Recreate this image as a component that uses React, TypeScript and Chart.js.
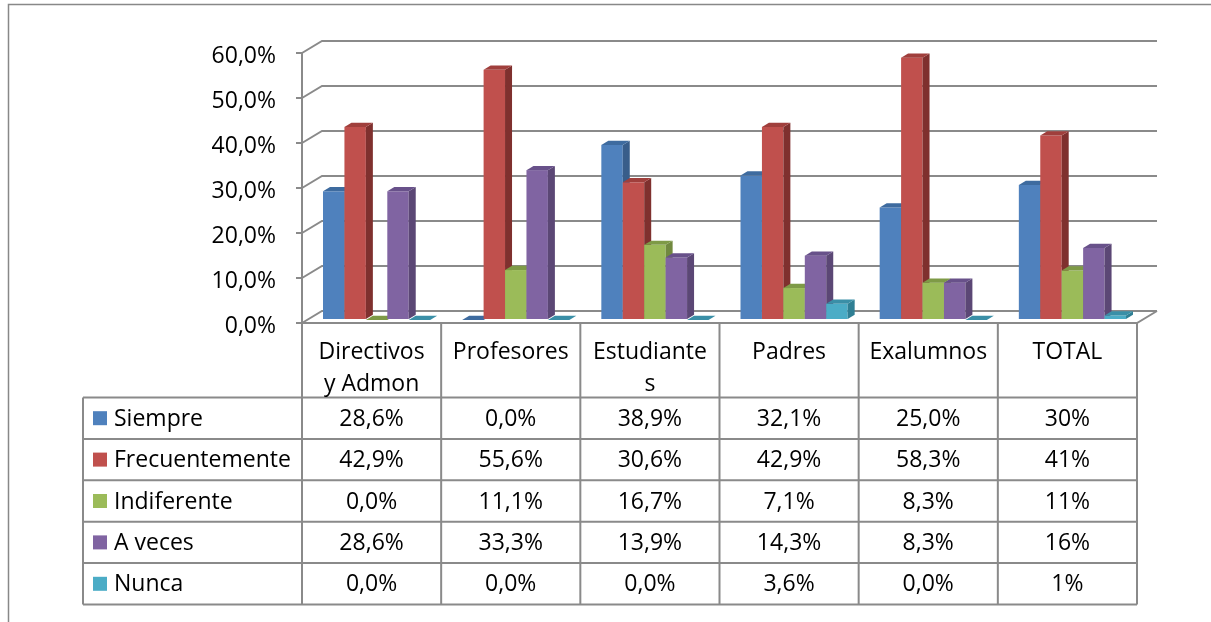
import React, { useEffect, useRef } from 'react';
import { Chart, registerables } from 'chart.js';

Chart.register(...registerables);

// Categories (multi-line header labels as they appear in the data table)
const categories: string[][] = [
  ['Directivos', 'y Admon'],
  ['Profesores'],
  ['Estudiante', 's'],
  ['Padres'],
  ['Exalumnos'],
  ['TOTAL'],
];

const seriesNames = ['Siempre', 'Frecuentemente', 'Indiferente', 'A veces', 'Nunca'];

// Percent values per series
const siempre = [28.6, 0.0, 38.9, 32.1, 25.0, 30];
const frecuentemente = [42.9, 55.6, 30.6, 42.9, 58.3, 41];
const indiferente = [0.0, 11.1, 16.7, 7.1, 8.3, 11];
const aVeces = [28.6, 33.3, 13.9, 14.3, 8.3, 16];
const nunca = [0.0, 0.0, 0.0, 3.6, 0.0, 1];

// Decimal places shown in the table for each category column
const tableDecimals = [1, 1, 1, 1, 1, 0];

// Value axis
const yMin = 0;
const yMax = 60;
const yStep = 10;

const seriesValues = [siempre, frecuentemente, indiferente, aVeces, nunca];

// Face colours: front, top, side
const frontColors = ['#4F81BD', '#C0504D', '#9BBB59', '#8064A2', '#4BACC6'];
const topColors = ['#3E6B9F', '#A03F3C', '#7E9A46', '#68518A', '#3A8FA7'];
const sideColors = ['#385D8A', '#7F302E', '#71893F', '#5B4775', '#2F7F94'];

const FONT_FAMILY = '"Open Sans", sans-serif';
const FONT = `23px ${FONT_FAMILY}`;
const LINE = '#8A8A8A';

// 3D geometry: full floor depth, and the slab of depth the bars occupy
const DEPTH_X = 20;
const DEPTH_Y = -12;
const BAR_FRONT = 0.25;
const BAR_BACK = 0.6;

// Data table geometry
const HEADER_H = 74.5;
const ROW_H = 41.4;
const LEGEND_LEFT = 83;

const fmt = (v: number, d: number) => v.toFixed(d).replace('.', ',') + '%';

const depthPlugin = {
  id: 'depth3d',
  beforeDatasetsDraw(chart: any) {
    const { ctx, chartArea, scales } = chart;
    const ys = scales.y;
    ctx.save();

    // Back wall gridlines with their left-wall diagonals
    ctx.strokeStyle = LINE;
    ctx.lineWidth = 2;
    ctx.lineJoin = 'miter';
    for (const t of ys.ticks) {
      const fy = ys.getPixelForValue(t.value);
      ctx.beginPath();
      ctx.moveTo(chartArea.left, fy);
      ctx.lineTo(chartArea.left + DEPTH_X, fy + DEPTH_Y);
      ctx.lineTo(chartArea.right + DEPTH_X, fy + DEPTH_Y);
      ctx.stroke();
    }
    // Floor front and right edges
    const floorY = ys.getPixelForValue(0);
    ctx.beginPath();
    ctx.moveTo(chartArea.left, floorY);
    ctx.lineTo(chartArea.right, floorY);
    ctx.lineTo(chartArea.right + DEPTH_X, floorY + DEPTH_Y);
    ctx.stroke();

    // Bars, category by category, left to right
    const ox = DEPTH_X * BAR_FRONT;
    const oy = DEPTH_Y * BAR_FRONT;
    const dx = DEPTH_X * (BAR_BACK - BAR_FRONT);
    const dy = DEPTH_Y * (BAR_BACK - BAR_FRONT);
    for (let c = 0; c < categories.length; c++) {
      for (let d = 0; d < seriesValues.length; d++) {
        const meta = chart.getDatasetMeta(d);
        const bar = meta.data[c];
        if (!bar) continue;
        const p = bar.getProps(['x', 'y', 'base', 'width'], true);
        const xl = p.x - p.width / 2 + ox;
        const xr = p.x + p.width / 2 + ox;
        const top = Math.min(p.y, p.base) + oy;
        const base = Math.max(p.y, p.base) + oy;

        if (base - top > 0.5) {
          ctx.fillStyle = frontColors[d];
          ctx.fillRect(xl, top, xr - xl, base - top);

          ctx.fillStyle = sideColors[d];
          ctx.beginPath();
          ctx.moveTo(xr, top);
          ctx.lineTo(xr + dx, top + dy);
          ctx.lineTo(xr + dx, base + dy);
          ctx.lineTo(xr, base);
          ctx.closePath();
          ctx.fill();
        }

        ctx.fillStyle = topColors[d];
        ctx.beginPath();
        ctx.moveTo(xl, top);
        ctx.lineTo(xl + dx, top + dy);
        ctx.lineTo(xr + dx, top + dy);
        ctx.lineTo(xr, top);
        ctx.closePath();
        ctx.fill();
      }
    }
    ctx.restore();
    return false;
  },
};

const tablePlugin = {
  id: 'dataTable',
  afterDraw(chart: any) {
    const { ctx, scales } = chart;
    const xs = scales.x;
    const ys = scales.y;
    const n = categories.length;
    const top = ys.getPixelForValue(0);
    const headerBottom = top + HEADER_H;
    const bottom = headerBottom + seriesNames.length * ROW_H;
    const bounds: number[] = [];
    for (let i = 0; i <= n; i++) bounds.push(xs.getPixelForValue(i - 0.5));

    ctx.save();
    ctx.strokeStyle = LINE;
    ctx.lineWidth = 2;
    ctx.beginPath();
    for (const bx of bounds) {
      ctx.moveTo(bx, top);
      ctx.lineTo(bx, bottom);
    }
    ctx.moveTo(LEGEND_LEFT, headerBottom);
    ctx.lineTo(LEGEND_LEFT, bottom);
    for (let r = 0; r <= seriesNames.length; r++) {
      const ry = headerBottom + r * ROW_H;
      ctx.moveTo(LEGEND_LEFT, ry);
      ctx.lineTo(bounds[n], ry);
    }
    ctx.stroke();

    ctx.fillStyle = '#000';
    ctx.font = FONT;
    ctx.textBaseline = 'middle';

    // Header labels
    ctx.textAlign = 'center';
    categories.forEach((lines, i) => {
      const cx = (bounds[i] + bounds[i + 1]) / 2;
      lines.forEach((ln, k) => {
        ctx.fillText(ln, cx, top + 29 + k * 32);
      });
    });

    // Rows: legend key and values
    seriesNames.forEach((name, r) => {
      const cy = headerBottom + (r + 0.5) * ROW_H;
      ctx.fillStyle = frontColors[r];
      ctx.fillRect(93, cy - 7, 14, 14);
      ctx.fillStyle = '#000';
      ctx.textAlign = 'left';
      ctx.fillText(name, 114, cy + 1);
      ctx.textAlign = 'center';
      seriesValues[r].forEach((v, i) => {
        const cx = (bounds[i] + bounds[i + 1]) / 2;
        ctx.fillText(fmt(v, tableDecimals[i]), cx, cy + 1);
      });
    });

    // Outer frame (top and left edges)
    ctx.strokeStyle = '#888888';
    ctx.lineWidth = 1.5;
    ctx.beginPath();
    ctx.moveTo(8.5, 622);
    ctx.lineTo(8.5, 4.5);
    ctx.lineTo(1211, 4.5);
    ctx.stroke();
    ctx.restore();
  },
};

export default function App() {
  const ref = useRef<HTMLCanvasElement | null>(null);

  useEffect(() => {
    const canvas = ref.current;
    if (!canvas) return;
    const chart = new Chart(canvas, {
      type: 'bar',
      data: {
        labels: categories,
        datasets: seriesNames.map((name, i) => ({
          label: name,
          data: seriesValues[i],
          backgroundColor: frontColors[i],
          borderWidth: 0,
        })),
      },
      options: {
        animation: false,
        responsive: false,
        devicePixelRatio: 1,
        layout: { padding: { left: 0, top: 53, right: 74, bottom: 299 } },
        plugins: {
          legend: { display: false },
          tooltip: { enabled: false },
        },
        datasets: {
          bar: { categoryPercentage: 0.77, barPercentage: 1 },
        },
        scales: {
          x: { display: false },
          y: {
            min: yMin,
            max: yMax,
            afterFit: (s: any) => {
              s.width = 302;
            },
            ticks: {
              stepSize: yStep,
              padding: 20,
              labelOffset: 3,
              color: '#000',
              font: { family: FONT_FAMILY, size: 23 },
              callback: (v: any) => fmt(Number(v), 1),
            },
            grid: {
              drawOnChartArea: false,
              drawTicks: true,
              tickLength: 6,
              color: LINE,
              lineWidth: 2,
            },
            border: { display: true, color: LINE, width: 2 },
          },
        },
      } as any,
      plugins: [depthPlugin, tablePlugin],
    });
    return () => chart.destroy();
  }, []);

  return (
    <div style={{ position: 'absolute', left: 0, top: 0, width: 1211, height: 622, background: '#fff' }}>
      <canvas ref={ref} width={1211} height={622} style={{ display: 'block' }} />
    </div>
  );
}
